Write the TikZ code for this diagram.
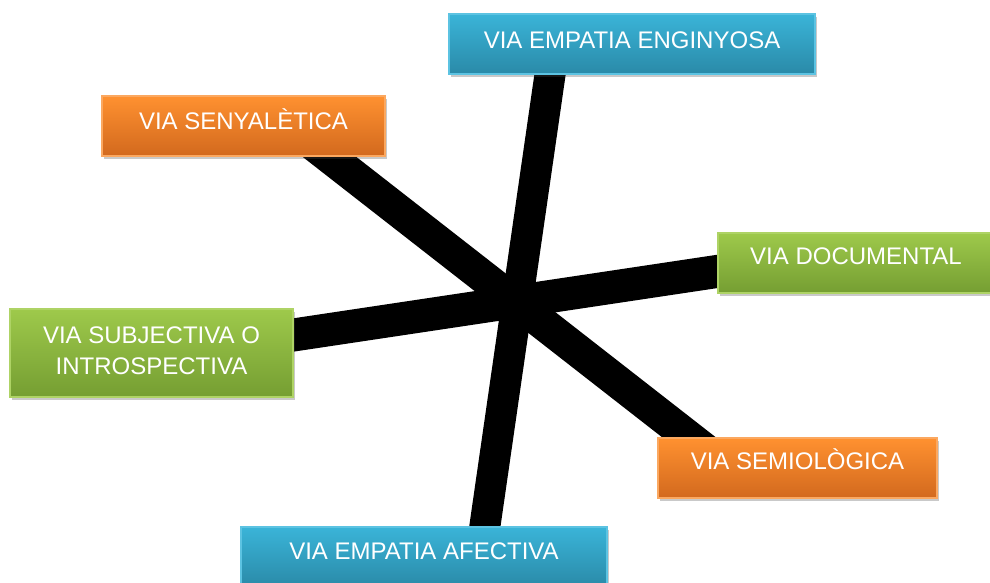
\documentclass[tikz,border=0pt]{standalone}
\usepackage{fontspec}
\setmainfont{Liberation Sans}
\usetikzlibrary{shadows}
\definecolor{bluetop}{HTML}{3AB4D8}
\definecolor{bluebot}{HTML}{2A8AA8}
\definecolor{blueedge}{HTML}{5CC3E2}
\definecolor{oratop}{HTML}{FF9130}
\definecolor{orabot}{HTML}{D2691E}
\definecolor{oraedge}{HTML}{FBA860}
\definecolor{grntop}{HTML}{9EC94B}
\definecolor{grnbot}{HTML}{759E32}
\definecolor{grnedge}{HTML}{AED365}
\tikzset{
  x=1pt, y=-1pt,
  bar/.style={line width=#1, black, line cap=butt},
  boxbase/.style={rectangle, inner sep=0pt, minimum height=60pt,
    line width=1.2pt,
    drop shadow={shadow xshift=1.5pt, shadow yshift=-3pt, opacity=0.3, fill=black!70}},
  bluebox/.style={boxbase, top color=bluetop, bottom color=bluebot, draw=blueedge},
  orabox/.style={boxbase, top color=oratop, bottom color=orabot, draw=oraedge},
  grnbox/.style={boxbase, top color=grntop, bottom color=grnbot, draw=grnedge},
  lbl/.style={text=white, font=\fontsize{24}{31.5}\selectfont, inner sep=0pt,
    text height=17.2pt, text depth=0pt},
  lbltwo/.style={text=white, font=\fontsize{24}{31.5}\selectfont, inner sep=0pt, align=center}
}
\begin{document}
\begin{tikzpicture}
\useasboundingbox (0,0) rectangle (990,583);
% bar end points
\coordinate (v1) at (555,40);
\coordinate (v2) at (480,560);
\coordinate (d1) at (295,130);
\coordinate (d2) at (724.5,465);
\coordinate (h1) at (250,341.5);
\coordinate (h2) at (760,265);
\draw[bar=31pt] (v1) -- (v2);
\draw[bar=33pt] (d1) -- (d2);
\draw[bar=33pt] (h1) -- (h2);
% boxes
\node[bluebox, minimum width=366pt,
  label={[lbl, yshift=4.5pt, name=engt]center:VIA EMPATIA ENGINYOSA}] (eng) at (632,44) {};
\node[orabox, minimum width=283pt,
  label={[lbl, yshift=5.5pt, name=sent]center:VIA SENYALÈTICA}] (sen) at (243.5,126) {};
\node[grnbox, minimum width=276pt,
  label={[lbl, yshift=7pt, name=doct]center:VIA DOCUMENTAL}] (doc) at (856,263) {};
\node[grnbox, minimum width=283pt, minimum height=88pt,
  label={[lbltwo, yshift=2.5pt, name=subt]center:VIA SUBJECTIVA O\\INTROSPECTIVA}] (sub) at (151.5,353) {};
\node[orabox, minimum width=279pt,
  label={[lbl, yshift=7pt, name=semt]center:VIA SEMIOLÒGICA}] (sem) at (797.5,468) {};
\node[bluebox, minimum width=366pt,
  label={[lbl, yshift=6.5pt, name=afet]center:VIA EMPATIA AFECTIVA}] (afe) at (424,557) {};
\end{tikzpicture}
\end{document}
